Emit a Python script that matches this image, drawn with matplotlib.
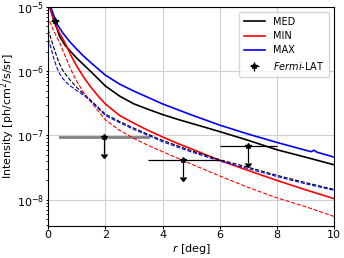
import numpy as np
import matplotlib
matplotlib.use("Agg")
import matplotlib.pyplot as plt

# MED / MIN / MAX model profiles (solid = total, dashed = second component)
r_med = [0.07, 0.2, 0.4, 0.6, 0.8, 1.0, 1.25, 1.5, 2.0, 2.5, 3.0, 3.5, 4.0, 4.5, 5.0,
         6.0, 7.0, 8.0, 9.0, 10.0]
med = [1.0e-5, 6.4e-6, 3.5e-6, 2.5e-6, 2.0e-6, 1.6e-6, 1.25e-6, 9.8e-7, 5.9e-7, 4.1e-7,
       3.1e-7, 2.55e-7, 2.12e-7, 1.8e-7, 1.55e-7, 1.15e-7, 8.4e-8, 6.0e-8, 4.6e-8, 3.5e-8]

r_max = [0.09, 0.3, 0.52, 0.75, 1.0, 1.25, 1.5, 2.0, 2.5, 3.0, 3.5, 4.0, 4.5, 5.0, 6.0,
         7.0, 8.0, 9.0, 9.2, 9.3, 9.4, 10.0]
vmax = [1.0e-5, 5.5e-6, 3.9e-6, 2.9e-6, 2.2e-6, 1.7e-6, 1.35e-6, 8.7e-7, 6.3e-7, 4.9e-7,
        3.9e-7, 3.1e-7, 2.55e-7, 2.1e-7, 1.45e-7, 1.05e-7, 7.8e-8, 5.9e-8, 5.6e-8, 5.9e-8,
        5.5e-8, 4.6e-8]

r_min = [0.05, 0.2, 0.4, 0.6, 0.8, 1.0, 1.25, 1.5, 1.75, 2.0, 2.5, 3.0, 3.5, 4.0, 4.5,
         5.0, 6.0, 7.0, 8.0, 9.0, 10.0]
vmin = [1.0e-5, 6.0e-6, 3.9e-6, 2.7e-6, 1.75e-6, 1.2e-6, 8.0e-7, 5.6e-7, 4.1e-7, 3.1e-7,
        2.05e-7, 1.55e-7, 1.2e-7, 9.5e-8, 7.6e-8, 6.2e-8, 4.1e-8, 2.85e-8, 2.0e-8,
        1.43e-8, 1.04e-8]

r_dash = [0.0, 0.1, 0.2, 0.3, 0.4, 0.5, 0.65, 0.8, 1.0, 1.25, 1.5, 2.0, 2.5, 3.0, 3.5,
          4.0, 5.0, 6.0, 7.0, 8.0, 9.0, 10.0]
med_d = [4.5e-6, 3.2e-6, 2.3e-6, 1.7e-6, 1.3e-6, 1.05e-6, 8.5e-7, 7.0e-7, 5.6e-7, 4.4e-7,
         3.5e-7, 2.15e-7, 1.65e-7, 1.3e-7, 1.04e-7, 8.4e-8, 5.8e-8, 4.2e-8, 3.2e-8,
         2.4e-8, 1.85e-8, 1.45e-8]
max_d = [3.2e-6, 2.3e-6, 1.55e-6, 1.15e-6, 9.2e-7, 7.8e-7, 6.6e-7, 5.8e-7, 5.0e-7, 4.2e-7,
         3.4e-7, 2.05e-7, 1.58e-7, 1.24e-7, 1.0e-7, 8.0e-8, 5.55e-8, 4.0e-8, 3.05e-8,
         2.3e-8, 1.77e-8, 1.4e-8]
r_mind = [0.05, 0.2, 0.4, 0.6, 0.8, 1.0, 1.25, 1.5, 2.0, 2.5, 3.0, 3.5, 4.0, 5.0, 6.0,
          7.0, 8.0, 9.0, 10.0]
min_d = [6.0e-6, 4.2e-6, 2.8e-6, 1.7e-6, 1.05e-6, 7.0e-7, 4.6e-7, 3.3e-7, 1.75e-7, 1.2e-7,
         9.0e-8, 7.0e-8, 5.6e-8, 3.6e-8, 2.35e-8, 1.55e-8, 1.07e-8, 7.8e-9, 5.5e-9]

# Fermi-LAT: detection + upper limits
fermi_r = [0.24, 1.96, 4.72, 7.0]
fermi_lo = [0.10, 0.42, 3.5, 6.0]
fermi_hi = [0.38, 3.5, 6.0, 8.0]
fermi_y = [6.0e-6, 9.5e-8, 4.1e-8, 6.9e-8]
fermi_ul = [False, True, True, True]

fig, ax = plt.subplots(figsize=(3.44, 2.58), dpi=100)
fig.subplots_adjust(left=0.14, right=0.971, top=0.973, bottom=0.124)

ax.plot(r_med, med, color="black", lw=1.2, label="MED")
ax.plot(r_min, vmin, color="red", lw=1.2, label="MIN")
ax.plot(r_max, vmax, color="blue", lw=1.2, label="MAX")
ax.plot(r_dash, med_d, color="black", lw=0.8, ls="--")
ax.plot(r_mind, min_d, color="red", lw=0.8, ls="--")
ax.plot(r_dash, max_d, color="blue", lw=0.8, ls="--")

for i in range(len(fermi_r)):
    xerr = [[fermi_r[i] - fermi_lo[i]], [fermi_hi[i] - fermi_r[i]]]
    if fermi_ul[i]:
        yerr = [[0.45 * fermi_y[i]], [0]]
        if i == 1:
            # first upper limit: wide grey bin
            ax.plot([fermi_lo[i], fermi_hi[i]], [fermi_y[i], fermi_y[i]],
                    color="gray", lw=2, zorder=1.5)
            eb = ax.errorbar([fermi_r[i]], [fermi_y[i]], yerr=yerr, uplims=True,
                             fmt="*", color="black", ms=4, elinewidth=0.9, zorder=4)
        else:
            eb = ax.errorbar([fermi_r[i]], [fermi_y[i]], xerr=xerr, yerr=yerr,
                             uplims=True, fmt="*", color="black", ms=4,
                             elinewidth=0.9, zorder=4)
        for cl in eb[1]:
            cl.set_markersize(4)
    else:
        yerr = [[0.9e-6], [0.9e-6]]
        ax.errorbar([fermi_r[i]], [fermi_y[i]], xerr=xerr, yerr=yerr,
                    fmt="*", color="black", ms=4, elinewidth=0.9, zorder=4,
                    label=r"$\mathit{Fermi}$-LAT")

ax.set_yscale("log")
ax.set_xlim(0, 10)
ax.set_ylim(3.9e-9, 1e-5)
ax.set_xticks([0, 2, 4, 6, 8, 10])
ax.grid(True, which="major", color="#d0d0d0", lw=0.8)
ax.set_axisbelow(True)
ax.tick_params(which="major", labelsize=8, length=1.8, pad=1.2)
ax.tick_params(which="minor", length=1.2)
ax.set_xlabel(r"$r$ [deg]", fontsize=8, labelpad=1)
ax.set_ylabel(r"Intensity [ph/cm$^2$/s/sr]", fontsize=8)
ax.yaxis.set_label_coords(-0.108, 0.5)
ax.legend(loc="upper right", fontsize=7, handlelength=2.2, labelspacing=0.45,
          borderpad=0.5)

plt.savefig("out.png", dpi=100)
